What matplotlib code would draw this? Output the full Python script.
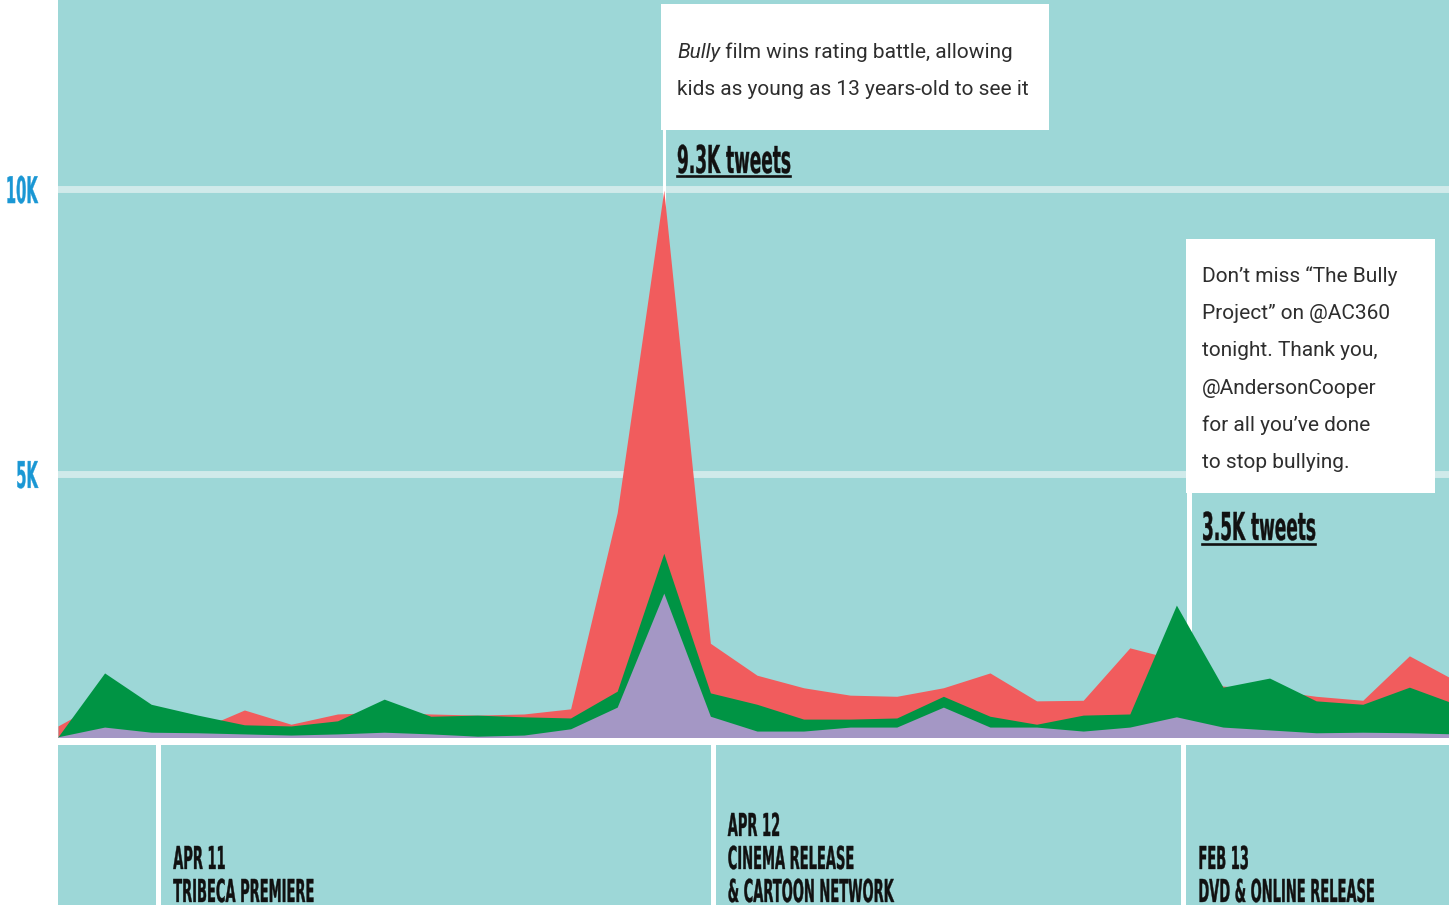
"""
    Bully film - tweets per month, area chart with event panel
"""

import matplotlib
matplotlib.use('Agg')
import numpy as np
import matplotlib.pyplot as plt
from matplotlib.patheffects import AbstractPathEffect
from matplotlib.transforms import Affine2D
from matplotlib.patches import Rectangle
from matplotlib.lines import Line2D

W, H = 1449, 905

months = ['Feb 11', 'Mar 11', 'Apr 11', 'May 11', 'Jun 11', 'Jul 11', 'Aug 11', 'Sep 11',
          'Oct 11', 'Nov 11', 'Dec 11', 'Jan 12', 'Feb 12', 'Mar 12', 'Apr 12', 'May 12',
          'Jun 12', 'Jul 12', 'Aug 12', 'Sep 12', 'Oct 12', 'Nov 12', 'Dec 12', 'Jan 13',
          'Feb 13', 'Mar 13', 'Apr 13', 'May 13', 'Jun 13', 'Jul 13', 'Aug 13']
# values as read against the 5K / 10K gridlines (the drawn baseline sits a bit above zero)
red = [580, 1030, 770, 510, 860, 610, 790, 820, 790, 770, 790, 880, 4320, 9980, 2030, 1470,
       1250, 1120, 1100, 1250, 1510, 1020, 1030, 1950, 1740, 1280, 1210, 1100, 1030, 1810, 1370]
green = [390, 1510, 960, 770, 600, 580, 670, 1050, 750, 770, 740, 720, 1190, 3610, 1160, 960,
         700, 700, 720, 1100, 750, 610, 770, 790, 2700, 1260, 1420, 1020, 960, 1260, 960]
purple = [390, 560, 470, 460, 440, 420, 440, 470, 440, 400, 420, 530, 910, 2910, 750, 490,
          490, 560, 560, 910, 560, 560, 490, 560, 740, 560, 510, 460, 470, 460, 440]

y_ticks = [5000, 10000]
y_tick_labels = ['5K', '10K']

event_x = [2.15, 14.05, 24.15]
event_labels = [['APR 11', 'TRIBECA PREMIERE'],
                ['APR 12', 'CINEMA RELEASE', '& CARTOON NETWORK'],
                ['FEB 13', 'DVD & ONLINE RELEASE']]

peak_label = '9.3K tweets'
peak_note = ['Bully', ' film wins rating battle, allowing', 'kids as young as 13 years-old to see it']
dvd_label = '3.5K tweets'
dvd_note = ['Don\u2019t miss \u201cThe Bully', 'Project\u201d on @AC360', 'tonight. Thank you,',
            '@AndersonCooper', 'for all you\u2019ve done', 'to stop bullying.']

TEAL = '#9dd7d7'
RED = '#f15c5d'
GREEN = '#009444'
PURPLE = '#a497c5'
GRID = '#d0eaea'
BLUE = '#1a97d4'
TXT = '#2e2e2e'
BODY = ['Roboto', 'DejaVu Sans']
HEAD = ['DejaVu Sans']


class Tall(AbstractPathEffect):
    """stretch glyphs vertically: small font + tall = condensed look"""
    def __init__(self, sy=2.4, lw=0.3, about='baseline'):
        super().__init__()
        self.sy, self.lw, self.about = sy, lw, about

    def draw_path(self, renderer, gc, tpath, affine, rgbFace=None):
        if self.about == 'center':
            ext = tpath.get_extents(affine)
            y0 = (ext.y0 + ext.y1) / 2
        else:
            y0 = affine.get_matrix()[1, 2]
        tall = affine + Affine2D().translate(0, -y0).scale(1, self.sy).translate(0, y0)
        gc0 = renderer.new_gc()
        gc0.copy_properties(gc)
        gc0.set_linewidth(self.lw)
        gc0.set_foreground(rgbFace)
        renderer.draw_path(gc0, tpath, tall, rgbFace)
        gc0.restore()


def fx(x):
    return x / W


def fy(y):
    return 1 - y / H


x = np.arange(len(months))
x_max = 29.85

fig = plt.figure(figsize=(W / 100, H / 100), dpi=100, facecolor='white')

# main area chart
ax = fig.add_axes([fx(58), fy(737), fx(W) - fx(58), 737 / H])
ax.set_facecolor(TEAL)
ax.fill_between(x, red, color=RED, lw=0, zorder=2)
ax.fill_between(x, green, color=GREEN, lw=0, zorder=3)
ax.fill_between(x, purple, color=PURPLE, lw=0, zorder=4)
ax.set_xlim(0, x_max)
ax.set_ylim(386, 13316)
ax.set_xticks([])
ax.set_yticks(y_ticks, y_tick_labels)
ax.tick_params(axis='y', length=0, pad=14.5, labelcolor=BLUE, labelsize=10.6)
for lab in ax.get_yticklabels():
    lab.set_family(HEAD)
    lab.set_fontweight('bold')
    lab.set_path_effects([Tall(2.5, lw=0.25, about='center')])
ax.grid(axis='y', color=GRID, lw=5)
ax.set_axisbelow(True)
for s in ax.spines.values():
    s.set_visible(False)

# note boxes with connector lines
tf = fig.transFigure
ax.add_line(Line2D([fx(663.5), fx(663.5)], [fy(130), fy(400)], transform=tf, color='white', lw=2.2, zorder=1.5))
ax.add_line(Line2D([fx(1189), fx(1189)], [fy(493), fy(730)], transform=tf, color='white', lw=3.6, zorder=1.5))
ax.add_patch(Rectangle((fx(661), fy(130)), (1049 - 661) / W, (130 - 4) / H, transform=tf,
                       fc='white', ec='none', zorder=5, clip_on=False))
ax.add_patch(Rectangle((fx(1186), fy(493)), (1435 - 1186) / W, (493 - 239) / H, transform=tf,
                       fc='white', ec='none', zorder=5, clip_on=False))

t = ax.text(fx(677), fy(58), peak_note[0], transform=tf, family=BODY, style='italic',
            size=15, color=TXT, va='baseline', zorder=6)
ax.annotate(peak_note[1], xy=(1, 0), xycoords=t, va='bottom', ha='left', family=BODY,
            size=15, color=TXT, zorder=6, annotation_clip=False)
ax.text(fx(677), fy(95), peak_note[2], transform=tf, family=BODY,
        size=15, color=TXT, va='baseline', zorder=6)
for i, line in enumerate(dvd_note):
    ax.text(fx(1202), fy(282 + 37.2 * i), line, transform=tf, family=BODY,
            size=15, color=TXT, va='baseline', zorder=6)

for label, lx, ly in [(peak_label, 677, 173), (dvd_label, 1202, 540)]:
    ax.text(fx(lx), fy(ly), label, transform=tf, family=HEAD, weight='bold', size=12.2,
            color='#111111', va='baseline', zorder=6, path_effects=[Tall(2.27, lw=0.25)])
    ax.add_line(Line2D([fx(lx), fx(lx + 113)], [fy(ly + 3.5), fy(ly + 3.5)], transform=tf,
                       color='#111111', lw=1.9, zorder=6))

# event panel
ax2 = fig.add_axes([fx(58), 0, fx(W) - fx(58), (H - 745) / H])
ax2.set_facecolor(TEAL)
ax2.set_xlim(0, x_max)
ax2.set_ylim(0, 1)
ax2.set_xticks([])
ax2.set_yticks([])
for s in ax2.spines.values():
    s.set_visible(False)
for ex, lines in zip(event_x, event_labels):
    ax2.axvline(ex, color='white', lw=3.6)
    n = len(lines)
    for i, line in enumerate(lines):
        base = 902 - 33 * (n - 1 - i)
        ax2.annotate(line, xy=(ex, H - base), xycoords=('data', 'figure pixels'),
                     xytext=(15, 0), textcoords='offset pixels', va='baseline', ha='left',
                     family=HEAD, weight='bold', size=9.4, color='#111111',
                     path_effects=[Tall(2.42, lw=0.25)], annotation_clip=False)

fig.savefig('out.png', dpi=100, facecolor='white')
